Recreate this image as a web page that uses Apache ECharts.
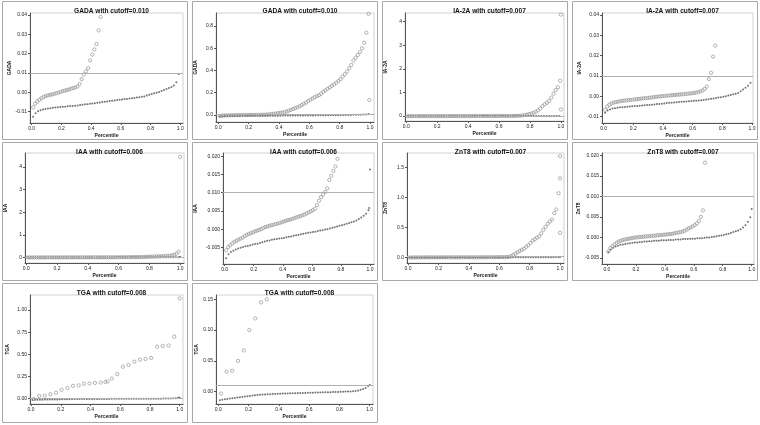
<!DOCTYPE html>
<html><head><meta charset="utf-8">
<script src="https://cdn.jsdelivr.net/npm/echarts@6/dist/echarts.min.js"></script>
<style>html,body{margin:0;padding:0;background:#fff}#c{width:760px;height:425px}</style>
</head><body><div id="c"></div>
<script>
// ---------------- DATA ----------------
const xTicks = [0, 0.2, 0.4, 0.6, 0.8, 1.0];

// GADA
const gadaCutoff = 0.010;
const gadaCircleRange = [0.01, 0.99];
const gadaCircleY = [-0.0078,-0.0058,-0.0047,-0.0038,-0.0030,-0.0023,-0.0019,-0.0016,-0.0013,-0.0011,
 -0.0008,-0.0005,-0.0002,0.0002,0.0006,0.0009,0.0012,0.0015,0.0019,0.0022,
 0.0025,0.0030,0.0043,0.0068,0.0092,0.0108,0.0125,0.0165,0.0195,0.0222,
 0.0250,0.0320,0.0390,0.046,0.054,0.062,0.070,0.079,0.089,0.100,
 0.112,0.126,0.138,0.148,0.160,0.170,0.178,0.192,0.210,0.222,
 0.236,0.248,0.262,0.275,0.290,0.305,0.322,0.345,0.365,0.390,
 0.420,0.450,0.490,0.515,0.540,0.565,0.600,0.650,0.740,0.910];
const gadaCircleExtra = [[0.995, 0.135]];
const gadaDotRange = [0.01, 0.99];
const gadaDotY = [-0.0126,-0.0108,-0.0098,-0.0093,-0.0089,-0.0086,-0.0084,-0.0082,-0.0080,-0.0079,
 -0.0077,-0.0076,-0.0075,-0.0074,-0.0072,-0.0071,-0.0070,-0.0069,-0.0068,-0.0066,
 -0.0064,-0.0062,-0.0061,-0.0059,-0.0058,-0.0056,-0.0054,-0.0052,-0.0050,-0.0049,
 -0.0047,-0.0045,-0.0043,-0.0042,-0.0040,-0.0038,-0.0037,-0.0035,-0.0034,-0.0032,
 -0.0031,-0.0029,-0.0027,-0.0025,-0.0023,-0.0021,-0.0017,-0.0013,-0.0009,-0.0005,
 -0.0002,0.0002,0.0007,0.0012,0.0017,0.0022,0.0027,0.0035,0.0052,0.0095];
const gadaDotExtra = [];

// IA-2A
const ia2aCutoff = 0.007;
const ia2aCircleRange = [0.01, 0.995];
const ia2aCircleY = [-0.0066,-0.0050,-0.0041,-0.0035,-0.0031,-0.0028,-0.0026,-0.0024,-0.0022,-0.0021,
 -0.0020,-0.0019,-0.0018,-0.0016,-0.0015,-0.0014,-0.0013,-0.0011,-0.0010,-0.0009,
 -0.0008,-0.0007,-0.0005,-0.0004,-0.0002,-0.0001,0.0000,0.0001,0.0002,0.0003,
 0.0004,0.0005,0.0006,0.0007,0.0008,0.0009,0.0010,0.0011,0.0012,0.0013,
 0.0014,0.0015,0.0017,0.0019,0.0021,0.0024,0.0029,0.0037,0.0048,0.0085,
 0.0116,0.0195,0.0250,0.045,0.060,0.085,0.110,0.140,0.180,0.240,
 0.320,0.420,0.500,0.560,0.640,0.780,0.950,1.100,1.220,1.500];
const ia2aCircleExtra = [[1.0, 4.30], [1.0, 0.28]];
const ia2aDotRange = [0.01, 0.99];
const ia2aDotY = [-0.0080,-0.0070,-0.0064,-0.0060,-0.0058,-0.0056,-0.0054,-0.0053,-0.0052,-0.0051,
 -0.0050,-0.0049,-0.0048,-0.0047,-0.0046,-0.0045,-0.0044,-0.0043,-0.0042,-0.0041,
 -0.0040,-0.0038,-0.0037,-0.0036,-0.0035,-0.0033,-0.0032,-0.0031,-0.0030,-0.0029,
 -0.0028,-0.0027,-0.0026,-0.0025,-0.0024,-0.0023,-0.0022,-0.0021,-0.0020,-0.0019,
 -0.0018,-0.0016,-0.0014,-0.0012,-0.0010,-0.0008,-0.0006,-0.0004,-0.0002,0.0001,
 0.0004,0.0007,0.0010,0.0013,0.0017,0.0025,0.0034,0.0042,0.0052,0.0067];
const ia2aDotExtra = [];

// IAA
const iaaCutoff = 0.006;
const iaaCircleRange = [0.01, 0.99];
const iaaCircleY = [-0.0058,-0.0049,-0.0044,-0.0039,-0.0035,-0.0032,-0.0029,-0.0026,-0.0023,-0.0019,
 -0.0016,-0.0013,-0.0011,-0.0009,-0.0006,-0.0004,-0.0002,0.0000,0.0003,0.0006,
 0.0007,0.0009,0.0011,0.0012,0.0014,0.0015,0.0017,0.0019,0.0021,0.0023,
 0.0025,0.0026,0.0028,0.0030,0.0032,0.0034,0.0036,0.0038,0.0040,0.0043,
 0.0046,0.0049,0.0052,0.0056,0.0066,0.0078,0.0088,0.0095,0.0102,0.0112,
 0.0135,0.0146,0.0160,0.0172,0.0193,0.025,0.030,0.034,0.038,0.042,
 0.046,0.050,0.055,0.060,0.066,0.075,0.090,0.115,0.160,0.250];
const iaaCircleExtra = [[1.0, 4.45]];
const iaaDotRange = [0.01, 0.99];
const iaaDotY = [-0.0080,-0.0069,-0.0063,-0.0059,-0.0056,-0.0053,-0.0051,-0.0049,-0.0047,-0.0046,
 -0.0044,-0.0042,-0.0041,-0.0040,-0.0038,-0.0036,-0.0034,-0.0032,-0.0031,-0.0029,
 -0.0028,-0.0027,-0.0026,-0.0025,-0.0024,-0.0022,-0.0021,-0.0020,-0.0018,-0.0017,
 -0.0016,-0.0014,-0.0013,-0.0011,-0.0010,-0.0009,-0.0008,-0.0007,-0.0005,-0.0004,
 -0.0003,-0.0001,0.0000,0.0002,0.0004,0.0005,0.0007,0.0009,0.0011,0.0013,
 0.0015,0.0017,0.0019,0.0021,0.0024,0.0028,0.0032,0.0037,0.0042,0.0052];
const iaaDotExtra = [[0.995, 0.0058], [1.0, 0.0164]];

// ZnT8
const znt8Cutoff = 0.007;
const znt8CircleRange = [0.01, 0.99];
const znt8CircleY = [-0.0034,-0.0026,-0.0021,-0.0017,-0.0013,-0.0010,-0.0008,-0.0006,-0.0005,-0.0004,
 -0.0003,-0.0002,-0.0001,0.0000,0.0000,0.0001,0.0001,0.0002,0.0002,0.0003,
 0.0003,0.0004,0.0004,0.0005,0.0005,0.0006,0.0006,0.0007,0.0007,0.0008,
 0.0008,0.0009,0.0010,0.0011,0.0012,0.0013,0.0014,0.0016,0.0019,0.0022,
 0.0024,0.0027,0.0030,0.0034,0.0040,0.0050,0.0066,0.0182,0.040,0.060,
 0.085,0.105,0.125,0.145,0.175,0.200,0.240,0.280,0.300,0.330,
 0.350,0.400,0.460,0.510,0.560,0.600,0.630,0.740,0.800,1.070];
const znt8CircleExtra = [[1.0, 1.32], [1.0, 1.69], [1.0, 0.41]];
const znt8DotRange = [0.01, 0.99];
const znt8DotY = [-0.0036,-0.0029,-0.0025,-0.0022,-0.0020,-0.0018,-0.0017,-0.0016,-0.0015,-0.0014,
 -0.0013,-0.0012,-0.0012,-0.0011,-0.0011,-0.0010,-0.0010,-0.0009,-0.0009,-0.0008,
 -0.0008,-0.0008,-0.0007,-0.0007,-0.0007,-0.0006,-0.0006,-0.0006,-0.0005,-0.0005,
 -0.0005,-0.0004,-0.0004,-0.0004,-0.0003,-0.0003,-0.0003,-0.0002,-0.0002,-0.0002,
 -0.0001,0.0000,0.0000,0.0001,0.0002,0.0003,0.0004,0.0005,0.0006,0.0008,
 0.0009,0.0011,0.0013,0.0015,0.0017,0.0020,0.0024,0.0030,0.0038,0.0049];
const znt8DotExtra = [[1.0, 0.0069]];

// TGA
const tgaCutoff = 0.008;
const tgaCircleX = [0.018,0.055,0.092,0.13,0.168,0.205,0.245,0.282,0.32,0.355,0.393,0.43,0.468,0.50,
 0.515,0.543,0.58,0.618,0.656,0.695,0.733,0.77,0.808,0.848,0.885,0.925,0.963,1.0];
const tgaCircleY = [-0.003,0.0325,0.034,0.050,0.067,0.100,0.119,0.145,0.150,0.168,0.172,0.178,0.182,0.188,
 0.195,0.226,0.278,0.360,0.380,0.417,0.440,0.447,0.460,0.586,0.594,0.600,0.700,1.130];
const tgaDotRange = [0.01, 0.99];
const tgaDotY = [-0.0140,-0.0130,-0.0124,-0.0118,-0.0112,-0.0106,-0.0101,-0.0096,-0.0091,-0.0086,
 -0.0080,-0.0075,-0.0070,-0.0063,-0.0057,-0.0053,-0.0050,-0.0047,-0.0045,-0.0043,
 -0.0041,-0.0039,-0.0037,-0.0035,-0.0033,-0.0031,-0.0030,-0.0028,-0.0027,-0.0026,
 -0.0024,-0.0023,-0.0022,-0.0021,-0.0020,-0.0019,-0.0018,-0.0017,-0.0015,-0.0014,
 -0.0012,-0.0011,-0.0010,-0.0009,-0.0008,-0.0007,-0.0006,-0.0004,-0.0003,-0.0001,
 0.0001,0.0003,0.0005,0.0008,0.0012,0.0020,0.0030,0.0042,0.0060,0.0092];
const tgaDotExtra = [[1.0, 0.0108]];

// tick label values
const ticksA = [-0.01, 0, 0.01, 0.02, 0.03, 0.04];
const ticksB = [0, 0.2, 0.4, 0.6, 0.8];
const ticksC = [0, 1, 2, 3, 4];
const ticksD = [-0.005, 0, 0.005, 0.010, 0.015, 0.020];
const ticksE = [0, 0.5, 1.0, 1.5];
const ticksF = [0, 0.25, 0.5, 0.75, 1.0];
const ticksG = [0, 0.05, 0.10, 0.15];

// ---------------- BUILD ----------------
function rankPts(ys, range) {
  const n = ys.length;
  return ys.map((y, i) => [range[0] + (range[1] - range[0]) * i / (n - 1), y]);
}
const sets = {
  'GADA': { c: rankPts(gadaCircleY, gadaCircleRange).concat(gadaCircleExtra), d: rankPts(gadaDotY, gadaDotRange).concat(gadaDotExtra), cut: gadaCutoff },
  'IA-2A': { c: rankPts(ia2aCircleY, ia2aCircleRange).concat(ia2aCircleExtra), d: rankPts(ia2aDotY, ia2aDotRange).concat(ia2aDotExtra), cut: ia2aCutoff },
  'IAA': { c: rankPts(iaaCircleY, iaaCircleRange).concat(iaaCircleExtra), d: rankPts(iaaDotY, iaaDotRange).concat(iaaDotExtra), cut: iaaCutoff },
  'ZnT8': { c: rankPts(znt8CircleY, znt8CircleRange).concat(znt8CircleExtra), d: rankPts(znt8DotY, znt8DotRange).concat(znt8DotExtra), cut: znt8Cutoff },
  'TGA': { c: tgaCircleX.map((x, i) => [x, tgaCircleY[i]]), d: rankPts(tgaDotY, tgaDotRange).concat(tgaDotExtra), cut: tgaCutoff }
};

// layout: [left, top, right, bottom] plot box in px
const panels = [
  { set: 'GADA',  box: [30, 13, 183, 123],    y: [-0.01585, 0.041], yt: ticksA, dec: 2, x: [-0.011, 1.018], gap: 18 },
  { set: 'GADA',  box: [216, 13, 374, 122],   y: [-0.063, 0.917],   yt: ticksB, dec: 1, x: [-0.015, 1.026], gap: 18 },
  { set: 'IA-2A', box: [405, 13, 564, 121],   y: [-0.21, 4.37],     yt: ticksC, dec: 0, x: [-0.008, 1.02],  gap: 17 },
  { set: 'IA-2A', box: [602, 13, 753, 123],   y: [-0.0131, 0.041],  yt: ticksA, dec: 2, x: [-0.011, 1.007], gap: 20 },
  { set: 'IAA',   box: [25, 153, 184, 263],   y: [-0.25, 4.62],     yt: ticksC, dec: 0, x: [-0.008, 1.025], gap: 17 },
  { set: 'IAA',   box: [223, 153, 374, 264],  y: [-0.00957, 0.0209],yt: ticksD, dec: 3, x: [-0.0115, 1.028],gap: 25 },
  { set: 'ZnT8',  box: [407, 153, 564, 263],  y: [-0.095, 1.743],   yt: ticksE, dec: 1, x: [-0.007, 1.026], gap: 19 },
  { set: 'ZnT8',  box: [602, 153, 754, 264],  y: [-0.00646, 0.02056],yt: ticksD, dec: 3, x: [-0.034, 1.016], gap: 20 },
  { set: 'TGA',   box: [30, 295, 183, 404],   y: [-0.06, 1.169],    yt: ticksF, dec: 2, x: [-0.007, 1.022], gap: 20 },
  { set: 'TGA',   box: [216, 295, 373, 404],  y: [-0.020, 0.157],   yt: ticksG, dec: 2, x: [-0.015, 1.022], gap: 17 }
];
const frames = [
  [2, 1, 185, 138], [192, 1, 185, 138], [382, 1, 185, 138], [572, 1, 185, 138],
  [2, 142, 185, 138], [192, 142, 185, 138], [382, 142, 185, 138], [572, 142, 185, 138],
  [2, 283, 185, 139], [192, 283, 185, 139]
];

const FONT = '"Liberation Sans", Arial, sans-serif';
const grid = [], xAxis = [], yAxis = [], series = [], title = [];
panels.forEach((p, i) => {
  const [l, t, r, b] = p.box;
  const s = sets[p.set];
  grid.push({ left: l, top: t, width: r - l, height: b - t, show: true, borderColor: '#d2d2d2', borderWidth: 1, backgroundColor: 'transparent' });
  xAxis.push({
    type: 'value', gridIndex: i, min: p.x[0], max: p.x[1],
    name: 'Percentile', nameLocation: 'middle', nameGap: 10,
    nameTextStyle: { fontFamily: FONT, fontSize: 5, fontWeight: 'bold', color: '#222' },
    axisLine: { show: true, onZero: false, lineStyle: { color: '#555', width: 1 } },
    axisTick: { show: true, length: 2, customValues: xTicks, lineStyle: { color: '#555' } },
    axisLabel: { customValues: xTicks, formatter: v => v.toFixed(1), fontFamily: FONT, fontSize: 5, color: '#222', margin: 3 },
    splitLine: { show: false }
  });
  yAxis.push({
    type: 'value', gridIndex: i, min: p.y[0], max: p.y[1],
    name: p.set, nameLocation: 'middle', nameGap: p.gap,
    nameTextStyle: { fontFamily: FONT, fontSize: 5, fontWeight: 'bold', color: '#222' },
    axisLine: { show: true, onZero: false, lineStyle: { color: '#555', width: 1 } },
    axisTick: { show: true, length: 2, customValues: p.yt, lineStyle: { color: '#555' } },
    axisLabel: { customValues: p.yt, formatter: v => v.toFixed(p.dec), fontFamily: FONT, fontSize: 5, color: '#222', margin: 3 },
    splitLine: { show: false }
  });
  title.push({
    text: p.set + ' with cutoff=' + s.cut.toFixed(3),
    left: (l + r) / 2, top: frames[i][1] + 2, textAlign: 'center',
    textStyle: { fontFamily: FONT, fontSize: 6.6, fontWeight: 'bold', color: '#111' }
  });
  series.push({
    type: 'scatter', xAxisIndex: i, yAxisIndex: i, data: s.d, clip: true,
    symbol: 'circle', symbolSize: 2, itemStyle: { color: '#505050' }, silent: true, z: 3
  });
  series.push({
    type: 'scatter', xAxisIndex: i, yAxisIndex: i, data: s.c, clip: true,
    symbol: 'circle', symbolSize: 3.3,
    itemStyle: { color: 'rgba(0,0,0,0)', borderColor: '#8a8a8a', borderWidth: 0.8 }, silent: true, z: 4,
    markLine: {
      silent: true, symbol: 'none', animation: false, label: { show: false },
      lineStyle: { color: '#b0b0b0', width: 1, type: 'solid' },
      data: [{ yAxis: s.cut }]
    }
  });
});
const graphic = frames.map(f => ({
  type: 'rect', silent: true, z: 100,
  shape: { x: f[0] + 0.5, y: f[1] + 0.5, width: f[2], height: f[3] },
  style: { fill: 'none', stroke: '#a8a8a8', lineWidth: 1 }
}));

const chart = echarts.init(document.getElementById('c'), null, { renderer: 'canvas' });
chart.setOption({ animation: false, backgroundColor: '#fff', title, grid, xAxis, yAxis, series, graphic });
</script>
</body></html>
